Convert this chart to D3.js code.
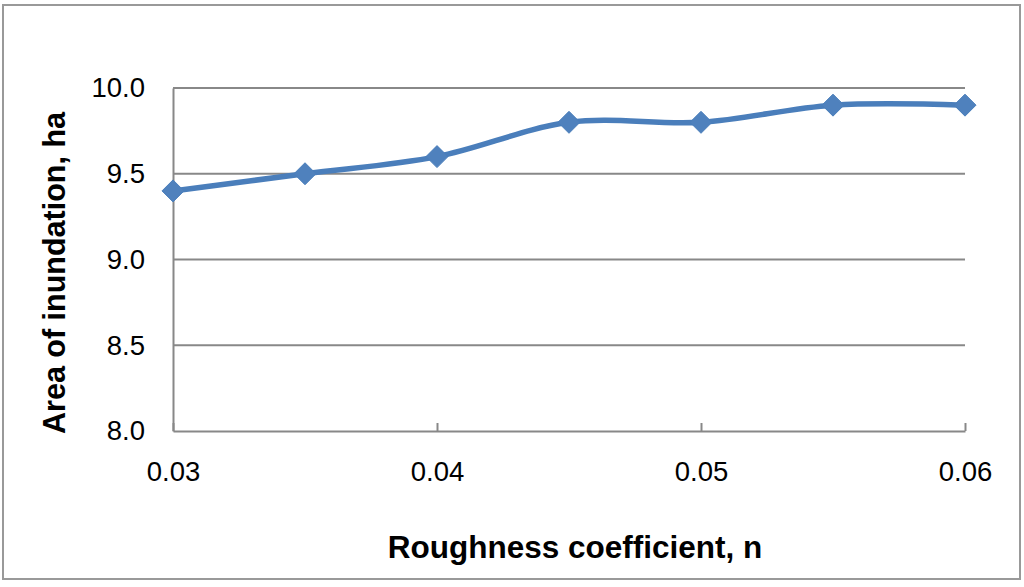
<!DOCTYPE html>
<html><head><meta charset="utf-8">
<script src="https://cdn.jsdelivr.net/npm/d3@7"></script>
<style>html,body{margin:0;padding:0;background:#fff;}</style>
</head><body>
<svg id="c" width="1024" height="587"></svg>
<script>
const roughness = [0.03, 0.035, 0.04, 0.045, 0.05, 0.055, 0.06];
const area = [9.4, 9.5, 9.6, 9.8, 9.8, 9.9, 9.9];
const xTicks = [0.03, 0.04, 0.05, 0.06];
const yTicks = [8.0, 8.5, 9.0, 9.5, 10.0];
const xTitle = "Roughness coefficient, n";
const yTitle = "Area of inundation, ha";

const svg = d3.select("#c");
const font = "'Liberation Sans', Arial, sans-serif";
const grey = "#888888";

svg.append("rect").attr("x", 3).attr("y", 5).attr("width", 1017).attr("height", 574)
  .attr("fill", "#fff").attr("stroke", "#999").attr("stroke-width", 2);

const x = d3.scaleLinear().domain([0.03, 0.06]).range([173, 965]);
const y = d3.scaleLinear().domain([8.0, 10.0]).range([431, 88]);

// gridlines
svg.append("g").selectAll("line").data(yTicks.filter(d => d > 8)).join("line")
  .attr("x1", x(0.03)).attr("x2", x(0.06))
  .attr("y1", d => y(d)).attr("y2", d => y(d))
  .attr("stroke", grey).attr("stroke-width", 2);

// y axis
const yAxis = svg.append("g").attr("transform", `translate(${x(0.03)},0)`)
  .call(d3.axisLeft(y).tickValues(yTicks).tickFormat(d3.format(".1f")).tickSize(0).tickPadding(28));
yAxis.select(".domain").attr("stroke", grey).attr("stroke-width", 2);
yAxis.selectAll("text").attr("font-family", font).attr("font-size", 27.5).attr("fill", "#000");

// x axis
const xAxis = svg.append("g").attr("transform", `translate(0,${y(8.0)})`)
  .call(d3.axisBottom(x).tickValues(xTicks).tickFormat(d3.format(".2f")).tickSizeInner(-8).tickSizeOuter(0).tickPadding(30));
xAxis.select(".domain").attr("stroke", grey).attr("stroke-width", 2);
xAxis.selectAll(".tick line").attr("stroke", grey).attr("stroke-width", 2);
xAxis.selectAll("text").attr("font-family", font).attr("font-size", 27.5).attr("fill", "#000");

// line
const line = d3.line().x((d, i) => x(roughness[i])).y(d => y(d)).curve(d3.curveCardinal.tension(0));
svg.append("path").datum(area).attr("d", line)
  .attr("fill", "none").attr("stroke", "#4a7ebb").attr("stroke-width", 5.5).attr("stroke-linejoin", "round");

// markers
const s = 11;
svg.append("g").selectAll("path").data(area).join("path")
  .attr("transform", (d, i) => `translate(${x(roughness[i])},${y(d)})`)
  .attr("d", `M0,${-s}L${s},0L0,${s}L${-s},0Z`)
  .attr("fill", "#4f81bd").attr("stroke", "#4a7ebb").attr("stroke-width", 1);

// titles
svg.append("text").attr("x", 575).attr("y", 558).attr("text-anchor", "middle")
  .attr("font-family", font).attr("font-weight", "bold").attr("font-size", 31.5).text(xTitle);
svg.append("text").attr("transform", "translate(65,273) rotate(-90)").attr("text-anchor", "middle")
  .attr("font-family", font).attr("font-weight", "bold").attr("font-size", 30.5).text(yTitle);
</script>
</body></html>
